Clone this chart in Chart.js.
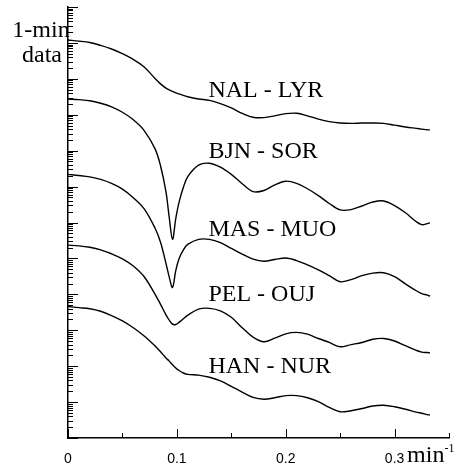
<!DOCTYPE html>
<html>
<head>
<meta charset="utf-8">
<script src="https://cdn.jsdelivr.net/npm/chart.js@4.4.1/dist/chart.umd.min.js"></script>
<style>
  html, body { margin: 0; padding: 0; background: #fff; }
  #wrap { width: 462px; height: 463px; }
</style>
</head>
<body>
<div id="wrap"><canvas id="chart" width="462" height="463"></canvas></div>
<script>
// ── Data ───────────────────────────────────────────────────────────────────
// frequency, min^-1
const freq = [0, 0.01, 0.02, 0.03, 0.04, 0.05, 0.06, 0.07, 0.08, 0.085, 0.09, 0.093, 0.096, 0.099,
  0.102, 0.106, 0.11, 0.12, 0.13, 0.14, 0.15, 0.16, 0.17, 0.18, 0.19, 0.2, 0.21, 0.22, 0.23, 0.24,
  0.25, 0.26, 0.27, 0.28, 0.29, 0.3, 0.31, 0.32, 0.325, 0.33, 0.3325];

// log10 of the plotted spectra (curves are shifted down one below the other)
const NAL_LYR = [-0.92, -0.95, -0.99, -1.07, -1.17, -1.30, -1.46, -1.67, -1.99, -2.14, -2.26, -2.31, -2.35, -2.39,
  -2.42, -2.46, -2.50, -2.56, -2.60, -2.69, -2.81, -2.96, -3.07, -3.08, -3.03, -2.97, -2.96, -3.03, -3.12, -3.19,
  -3.23, -3.24, -3.23, -3.23, -3.24, -3.29, -3.34, -3.38, -3.40, -3.42, -3.42];
const BJN_SOR = [-2.56, -2.58, -2.61, -2.68, -2.78, -2.93, -3.14, -3.44, -3.95, -4.42, -5.15, -5.86, -6.47, -5.89,
  -5.44, -5.02, -4.72, -4.40, -4.35, -4.46, -4.66, -4.92, -5.14, -5.11, -4.95, -4.85, -4.91, -5.06, -5.25, -5.47,
  -5.65, -5.64, -5.54, -5.43, -5.40, -5.53, -5.73, -5.98, -6.06, -6.03, -6.01];
const MAS_MUO = [-4.66, -4.69, -4.73, -4.80, -4.91, -5.07, -5.31, -5.62, -6.16, -6.55, -7.14, -7.52, -7.81, -7.34,
  -7.01, -6.76, -6.61, -6.47, -6.47, -6.56, -6.72, -6.88, -7.02, -7.08, -7.03, -6.99, -7.06, -7.18, -7.32, -7.48,
  -7.65, -7.59, -7.48, -7.41, -7.40, -7.51, -7.71, -7.90, -7.98, -8.02, -8.05];
const PEL_OUJ = [-6.63, -6.65, -6.69, -6.76, -6.87, -7.01, -7.21, -7.51, -8.00, -8.28, -8.57, -8.72, -8.83, -8.84,
  -8.78, -8.68, -8.58, -8.41, -8.39, -8.46, -8.64, -8.93, -9.19, -9.32, -9.22, -9.10, -9.06, -9.11, -9.23, -9.34,
  -9.46, -9.40, -9.34, -9.25, -9.23, -9.30, -9.43, -9.56, -9.61, -9.62, -9.63];
const HAN_NUR = [-8.34, -8.37, -8.40, -8.47, -8.59, -8.74, -8.93, -9.16, -9.44, -9.60, -9.77, -9.86, -9.96, -10.05,
  -10.12, -10.19, -10.23, -10.25, -10.31, -10.41, -10.56, -10.72, -10.87, -10.92, -10.88, -10.82, -10.82, -10.88, -10.99, -11.15,
  -11.27, -11.24, -11.18, -11.11, -11.09, -11.13, -11.20, -11.28, -11.31, -11.35, -11.36];

const pairNames = ['NAL - LYR', 'BJN - SOR', 'MAS - MUO', 'PEL - OUJ', 'HAN - NUR'];
const series    = [NAL_LYR, BJN_SOR, MAS_MUO, PEL_OUJ, HAN_NUR];

const xTicks  = [0, 0.05, 0.1, 0.15, 0.2, 0.25, 0.3, 0.35];
const xLabels = ['0', '', '0.1', '', '0.2', '', '0.3', ''];
const yDecadeMin = -12;
const yDecadeMax = 0;

// where the pair names sit (frequency, log10 level of the baseline)
const nameFreq  = 0.129;
const nameLevel = [-2.51, -4.20, -6.38, -8.19, -10.19];

// ── Decorations: inward ticks, titles, pair names ──────────────────────────
const decor = {
  id: 'decor',
  afterDraw(chart) {
    const { ctx, chartArea: a, scales: { x, y } } = chart;
    ctx.save();
    ctx.strokeStyle = '#000';
    ctx.lineWidth = 1;
    ctx.beginPath();
    xTicks.forEach((v, i) => {
      const px = Math.round(x.getPixelForValue(v)) + 0.5;
      ctx.moveTo(px, a.bottom);
      ctx.lineTo(px, a.bottom - (xLabels[i] ? 9 : 5));
    });
    for (let n = yDecadeMin; n <= yDecadeMax; n++) {
      for (let k = 1; k <= 9; k++) {
        if (n === yDecadeMax && k > 1) break;
        const py = Math.round(y.getPixelForValue(k * Math.pow(10, n))) + 0.5;
        ctx.moveTo(a.left, py);
        ctx.lineTo(a.left + (k === 1 ? 10 : 5), py);
      }
    }
    ctx.stroke();

    ctx.fillStyle = '#000';
    ctx.font = '24px "Liberation Serif"';
    ctx.textBaseline = 'alphabetic';

    // y title
    ctx.textAlign = 'center';
    ctx.fillText('1-min', 41, 37);
    ctx.fillText('data', 42, 61.5);

    // pair names
    ctx.textAlign = 'left';
    pairNames.forEach((name, i) => {
      ctx.fillText(name, x.getPixelForValue(nameFreq), y.getPixelForValue(Math.pow(10, nameLevel[i])));
    });

    // unit after the last label
    const ux = x.getPixelForValue(0.3) + 12.5;
    ctx.font = '24px "Liberation Serif"';
    ctx.fillText('min', ux, 461.5);
    const w = ctx.measureText('min').width;
    ctx.font = '12px "Liberation Serif"';
    ctx.fillText('-1', ux + w, 452);
    ctx.restore();
  }
};

// ── Chart ──────────────────────────────────────────────────────────────────
const datasets = series.map((vals, i) => ({
  label: pairNames[i],
  data: freq.map((f, j) => ({ x: f, y: Math.pow(10, vals[j]) })),
  borderColor: '#000',
  borderWidth: 1.4,
  pointRadius: 0,
  fill: false,
  tension: 0.35,
}));

new Chart(document.getElementById('chart'), {
  type: 'line',
  data: { datasets },
  options: {
    responsive: false,
    animation: false,
    events: [],
    layout: { padding: { top: 7, right: 10, left: 0, bottom: 0 } },
    plugins: { legend: { display: false }, tooltip: { enabled: false } },
    scales: {
      x: {
        type: 'linear',
        min: 0,
        max: 0.35,
        afterBuildTicks: s => { s.ticks = xTicks.map(v => ({ value: v })); },
        afterFit: s => { s.height = 25; },
        ticks: {
          autoSkip: false,
          maxRotation: 0,
          padding: 13,
          color: '#000',
          font: { family: '"Liberation Sans"', size: 14 },
          callback: (v, i) => xLabels[i],
        },
        grid: { display: false, drawTicks: false },
        border: { display: true, color: '#000', width: 1.5 },
      },
      y: {
        type: 'logarithmic',
        min: Math.pow(10, yDecadeMin),
        max: Math.pow(10, yDecadeMax),
        afterFit: s => { s.width = 68; },
        ticks: { display: false },
        grid: { display: false, drawTicks: false },
        border: { display: true, color: '#000', width: 1.5 },
      },
    },
  },
  plugins: [decor],
});
</script>
</body>
</html>
